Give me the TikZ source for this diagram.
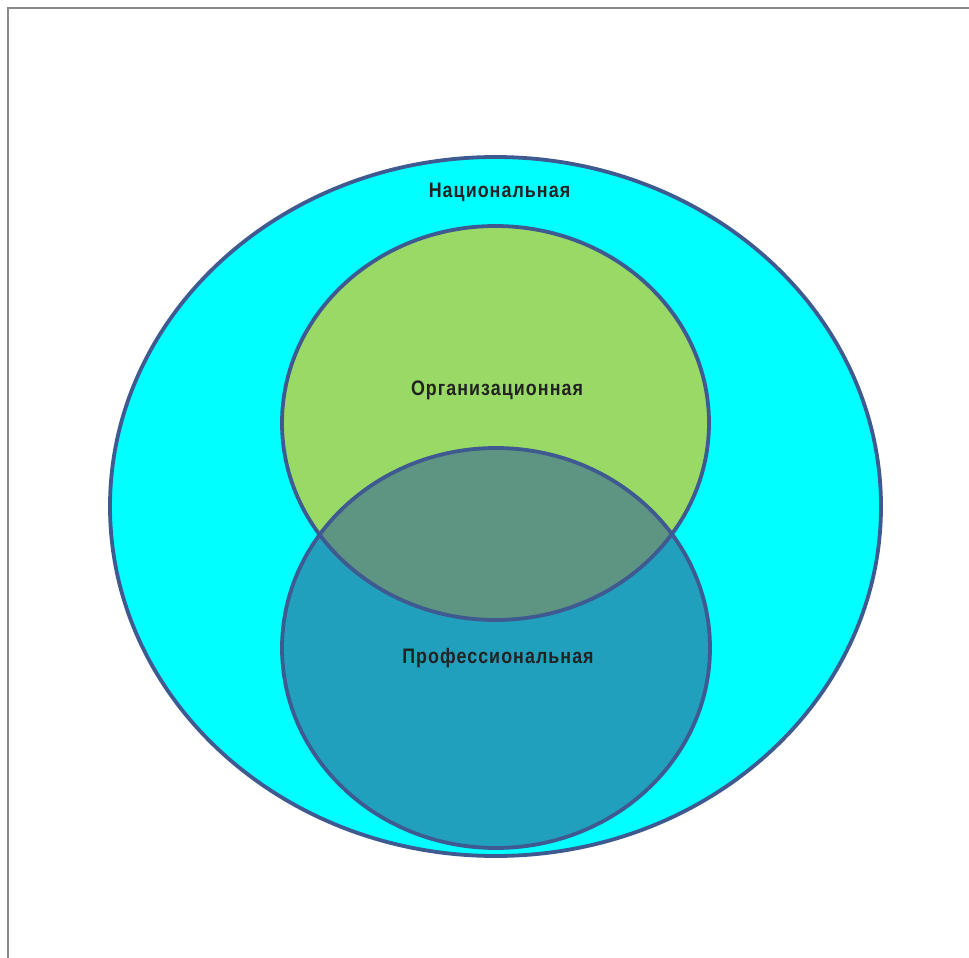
\documentclass[tikz,border=0pt]{standalone}
\usepackage{fontspec}
\setmainfont{Liberation Sans}[FakeStretch=0.85,LetterSpace=5]
\begin{document}
\begin{tikzpicture}[x=1pt,y=-1pt,
  ring/.style={draw=edge,line width=3.8pt},
  lbl/.style={font=\bfseries\fontsize{21}{24}\selectfont,text=labeltext,inner sep=0pt}]
\definecolor{edge}{HTML}{3E5A91}
\definecolor{cyanfill}{HTML}{00FFFF}
\definecolor{greenfill}{HTML}{99D966}
\definecolor{bluefill}{HTML}{21A0BD}
\definecolor{overlap}{HTML}{5E9482}
\definecolor{labeltext}{HTML}{222222}
\definecolor{frame}{HTML}{8A8A8A}
\useasboundingbox (0,0) rectangle (969,958);
\fill[white] (0,0) rectangle (969,958);
\draw[frame,line width=2pt] (8,958) -- (8,8) -- (969,8);
% outer
\path[ring,fill=cyanfill] (495.5,506.5) ellipse [x radius=385.5, y radius=349.5];
% green
\path[fill=greenfill] (495.5,423) ellipse [x radius=213.5, y radius=197];
% blue
\path[fill=bluefill] (496,648) ellipse [x radius=214, y radius=200];
% overlap
\begin{scope}
\clip (495.5,423) ellipse [x radius=213.5, y radius=197];
\fill[overlap] (496,648) ellipse [x radius=214, y radius=200];
\end{scope}
\draw[ring] (495.5,423) ellipse [x radius=213.5, y radius=197];
\draw[ring] (496,648) ellipse [x radius=214, y radius=200];
\node[lbl] (nat) at (499.5,192) {Национальная};
\node[lbl] (org) at (497,390) {Организационная};
\node[lbl] (prof) at (498,658) {Профессиональная};
\end{tikzpicture}
\end{document}
